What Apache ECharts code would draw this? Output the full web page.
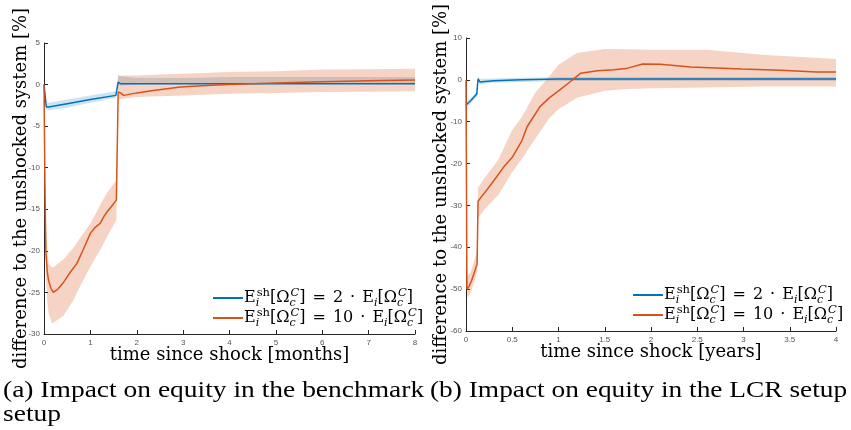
<!DOCTYPE html>
<html><head><meta charset="utf-8">
<script src="https://cdn.jsdelivr.net/npm/echarts@6/dist/echarts.min.js"></script>
<style>html,body{margin:0;padding:0;background:#fff}#c{width:851px;height:430px}</style>
</head><body><div id="c"></div>
<script>
// ---------- Panel (a): benchmark setup, x in months ----------
const blueA_t = [0, 0.05, 0.1, 0.5, 1.0, 1.55, 1.6, 1.65, 2.0, 3.0, 4.0, 5.0, 6.0, 7.0, 8.0];
const blueA_v = [0, -2.7, -2.7, -2.3, -1.8, -1.3, 0.3, 0.1, 0.1, 0.1, 0.1, 0.1, 0.1, 0.1, 0.1];
const blueA_hi = [0, -2.3, -2.2, -1.8, -1.3, -0.8, 1.2, 1.0, 0.8, 0.8, 0.9, 0.9, 0.9, 0.9, 0.9];
const blueA_lo = [0, -3.0, -3.1, -2.8, -2.2, -1.6, 0.0, -0.1, 0.0, 0.1, 0.2, 0.2, 0.2, 0.2, 0.2];

const redA_t = [0, 0.02, 0.04, 0.07, 0.1, 0.15, 0.2, 0.3, 0.42, 0.55, 0.71, 0.85, 1.0, 1.1, 1.21, 1.3, 1.36, 1.45, 1.56, 1.6, 1.65, 1.72, 2.0, 2.36, 2.94, 3.5, 4.0, 5.0, 6.0, 7.0, 8.0];
const redA_v = [0, -12, -20, -22.5, -23.6, -24.5, -25.0, -24.6, -23.8, -22.7, -21.5, -19.8, -17.9, -17.2, -16.7, -15.8, -15.3, -14.7, -13.9, -0.9, -1.0, -1.3, -1.0, -0.7, -0.3, -0.1, 0.0, 0.2, 0.35, 0.45, 0.55];
const bandA_t  = [0, 0.02, 0.04, 0.07, 0.1, 0.17, 0.22, 0.42, 0.65, 0.71, 1.0, 1.25, 1.36, 1.56, 1.6, 1.7, 2.0, 2.5, 3.0, 4.0, 5.0, 6.0, 7.0, 8.0];
const bandA_hi = [0, -10, -17, -20, -21.5, -22, -21.9, -21, -19.5, -19, -16.7, -14.1, -13, -11.5, 1.0, 1.1, 1.1, 1.2, 1.3, 1.5, 1.6, 1.8, 1.85, 1.9];
const bandA_lo = [0, -14, -23, -26, -27.5, -28.7, -28.6, -27.8, -25.8, -25, -21.9, -19.5, -18.3, -16.3, -1.8, -1.7, -1.5, -1.4, -1.3, -1.1, -1.0, -0.9, -0.85, -0.8];

// ---------- Panel (b): LCR setup, x in years ----------
const blueB_t = [0, 0.05, 0.116, 0.125, 0.13, 0.15, 0.3, 0.6, 1.0, 2.0, 3.0, 4.0];
const blueB_v = [-6.0, -5.0, -3.4, -3.2, 0.2, -0.5, -0.2, 0, 0.2, 0.2, 0.2, 0.2];
const blueB_hi = [-5.3, -4.4, -2.8, -2.6, 0.8, 0.2, 0.3, 0.5, 0.6, 0.7, 0.7, 0.7];
const blueB_lo = [-6.7, -5.7, -4.0, -3.8, -0.4, -1.0, -0.7, -0.5, -0.3, -0.3, -0.3, -0.3];

const redB_t = [0, 0.01, 0.03, 0.06, 0.09, 0.12, 0.13, 0.2, 0.3, 0.405, 0.5, 0.605, 0.66, 0.8, 0.9, 0.99, 1.13, 1.24, 1.42, 1.6, 1.75, 1.91, 2.1, 2.43, 2.98, 3.4, 3.79, 4.0];
const redB_v = [0, -50, -49.5, -48, -46, -44, -29, -27, -24.1, -20.9, -18.5, -14.5, -11.2, -6.4, -4.3, -2.8, -0.4, 1.6, 2.2, 2.4, 2.8, 3.8, 3.7, 3.1, 2.6, 2.3, 1.9, 1.9];
const bandB_t  = [0, 0.01, 0.05, 0.12, 0.13, 0.2, 0.35, 0.5, 0.6, 0.75, 0.9, 1.0, 1.2, 1.5, 1.75, 2.0, 2.6, 3.2, 4.0];
const bandB_hi = [0, -47, -46, -41, -25.7, -23.5, -19, -12, -9, -3, 0.8, 3.6, 6.4, 7.4, 7.3, 7.2, 7.2, 6.0, 5.0];
const bandB_lo = [0, -52, -51, -46, -33, -31, -27.5, -22, -19, -14, -9.2, -7.0, -4.3, -2.6, -2.2, -2.0, -1.8, -1.6, -1.6];

// ---------- Text ----------
const yTitle = 'difference to the unshocked system [%]';
const xTitleA = 'time since shock [months]';
const xTitleB = 'time since shock [years]';
const captionA = '(a) Impact on equity in the benchmark\nsetup';
const captionB = '(b) Impact on equity in the LCR setup';
const legendFactors = {a2: '2', a10: '10', b2: '2', b10: '10'};

const BLUE = '#0072BD', RED = '#D95319';
const BLUE_BAND = 'rgba(0,114,189,0.2)', RED_BAND = 'rgba(217,83,25,0.25)';
const AX = '#262626';

function pairs(ts, vs) { return ts.map((t, i) => [t, vs[i]]); }

function lineSeries(name, idx, ts, vs, color) {
  return { type: 'line', name, xAxisIndex: idx, yAxisIndex: idx, data: pairs(ts, vs),
    showSymbol: false, symbol: 'none', z: 5, animation: false,
    lineStyle: { color, width: 1.5 }, itemStyle: { color } };
}
function bandSeries(idx, ts, lo, hi, color, z) {
  return { type: 'custom', xAxisIndex: idx, yAxisIndex: idx, silent: true, z, animation: false,
    data: ts.map((t, i) => [t, lo[i], hi[i]]), encode: { x: 0, y: [1, 2] },
    renderItem: function (params, api) {
      if (params.dataIndex !== 0) return null;
      const pts = [];
      for (let i = 0; i < ts.length; i++) pts.push(api.coord([ts[i], hi[i]]));
      for (let i = ts.length - 1; i >= 0; i--) pts.push(api.coord([ts[i], lo[i]]));
      return { type: 'polygon', shape: { points: pts }, style: { fill: color, stroke: null } };
    } };
}
function xAxisCfg(idx, max, interval, name, gap) {
  return { type: 'value', gridIndex: idx, min: 0, max, interval, name, nameLocation: 'middle', nameGap: gap,
    nameMoveOverlap: false,
    nameTextStyle: { fontFamily: 'DejaVu Serif', fontSize: 18, color: '#000', verticalAlign: 'top' },
    axisLine: { show: true, onZero: false, lineStyle: { color: AX, width: 1 } },
    axisTick: { show: true, inside: true, length: 4, lineStyle: { color: AX } },
    axisLabel: { fontFamily: 'Liberation Sans', fontSize: 8, color: '#555', margin: 5, showMinLabel: true, showMaxLabel: true },
    splitLine: { show: false } };
}
function yAxisCfg(idx, min, max, interval, gap) {
  return { type: 'value', gridIndex: idx, min, max, interval, name: yTitle, nameLocation: 'middle', nameGap: gap,
    nameMoveOverlap: false,
    nameTextStyle: { fontFamily: 'DejaVu Serif', fontSize: 18, color: '#000' },
    axisLine: { show: true, onZero: false, lineStyle: { color: AX, width: 1 } },
    axisTick: { show: true, inside: true, length: 4, lineStyle: { color: AX } },
    axisLabel: { fontFamily: 'Liberation Sans', fontSize: 8, color: '#555', margin: 4, showMinLabel: true, showMaxLabel: true },
    splitLine: { show: false } };
}
const mainTxt = { fontFamily: 'DejaVu Serif', fontSize: 16, lineHeight: 22, color: '#000' };
const richStyles = {
  t: mainTxt,
  op: Object.assign({}, mainTxt, { padding: [0, 7, 0, 7] }),
  subS: { fontFamily: 'DejaVu Serif', fontSize: 11, fontStyle: 'italic', verticalAlign: 'bottom', width: 1, color: '#000' },
  sub: { fontFamily: 'DejaVu Serif', fontSize: 11, fontStyle: 'italic', verticalAlign: 'bottom', color: '#000' },
  supR: { fontFamily: 'DejaVu Serif', fontSize: 11.5, verticalAlign: 'top', color: '#000' },
  supI: { fontFamily: 'DejaVu Serif', fontSize: 11.5, fontStyle: 'italic', verticalAlign: 'top', color: '#000' }
};
function mathLabel(k) {
  return '{t|E}{subS|i}{supR|sh}{t|[Ω}{subS|c}{supI|C}{t|]}{op|=}{t|' + k + '}{op|·}{t|E}{sub|i}{t|[Ω}{subS|c}{supI|C}{t|]}';
}
function legendCfg(left, top, names) {
  return { left, top, orient: 'vertical', data: names, icon: 'rect', itemWidth: 30, itemHeight: 2, itemGap: -2,
    selectedMode: false, formatter: n => mathLabel(legendFactors[n]),
    textStyle: { rich: richStyles, padding: [0, 0, 0, -4] } };
}

const chart = echarts.init(document.getElementById('c'), null, { renderer: 'canvas' });
chart.setOption({
  animation: false,
  backgroundColor: '#fff',
  grid: [
    { left: 44, top: 43, width: 371, height: 291 },
    { left: 466, top: 38, width: 370, height: 293 }
  ],
  xAxis: [xAxisCfg(0, 8, 1, xTitleA, 12), xAxisCfg(1, 4, 0.5, xTitleB, 12)],
  yAxis: [yAxisCfg(0, -30, 5, 5, 14), yAxisCfg(1, -60, 10, 10, 16)],
  legend: [legendCfg(208, 282, ['a2', 'a10']), legendCfg(628, 279, ['b2', 'b10'])],
  series: [
    bandSeries(0, blueA_t, blueA_lo, blueA_hi, BLUE_BAND, 1),
    bandSeries(0, bandA_t, bandA_lo, bandA_hi, RED_BAND, 2),
    lineSeries('a2', 0, blueA_t, blueA_v, BLUE),
    lineSeries('a10', 0, redA_t, redA_v, RED),
    bandSeries(1, blueB_t, blueB_lo, blueB_hi, BLUE_BAND, 1),
    bandSeries(1, bandB_t, bandB_lo, bandB_hi, RED_BAND, 2),
    lineSeries('b2', 1, blueB_t, blueB_v, BLUE),
    lineSeries('b10', 1, redB_t, redB_v, RED)
  ],
  graphic: [
    { type: 'text', left: 3, top: 379, scaleX: 1.145, style: { text: captionA, font: '24px "Liberation Serif"', fill: '#000', lineHeight: 24 } },
    { type: 'text', left: 430, top: 379, scaleX: 1.14, style: { text: captionB, font: '24px "Liberation Serif"', fill: '#000', lineHeight: 24 } }
  ]
});
</script></body></html>
